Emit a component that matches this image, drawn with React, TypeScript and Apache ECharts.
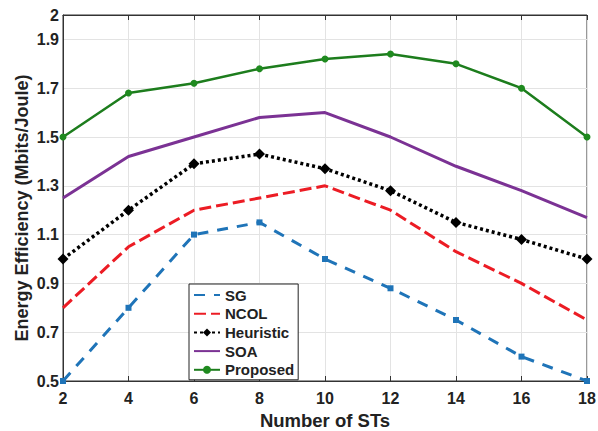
import React, { useEffect, useRef } from "react";
import * as echarts from "echarts";

const xValues = [2, 4, 6, 8, 10, 12, 14, 16, 18];
const sg = [0.5, 0.8, 1.1, 1.15, 1.0, 0.88, 0.75, 0.6, 0.5];
const ncol = [0.8, 1.05, 1.2, 1.25, 1.3, 1.2, 1.03, 0.9, 0.75];
const heuristic = [1.0, 1.2, 1.39, 1.43, 1.37, 1.28, 1.15, 1.08, 1.0];
const soa = [1.25, 1.42, 1.5, 1.58, 1.6, 1.5, 1.38, 1.28, 1.17];
const proposed = [1.5, 1.68, 1.72, 1.78, 1.82, 1.84, 1.8, 1.7, 1.5];
const yTickLabels = ["0.5", "0.7", "0.9", "1.1", "1.3", "1.5", "1.7", "1.9", "2"];
const yTitle = "Energy Efficiency (Mbits/Joule)";
const xTitle = "Number of STs";

const pairs = (ys: number[]) => xValues.map((x, i) => [x, ys[i]]);

export default function App() {
  const ref = useRef<HTMLDivElement>(null);
  useEffect(() => {
    if (!ref.current) return;
    const chart = echarts.init(ref.current, undefined, { renderer: "svg" });
    const font = "'Liberation Sans', Arial, sans-serif";
    const hidden = { opacity: 0 };
    chart.setOption({
      animation: false,
      backgroundColor: "#fff",
      textStyle: { fontFamily: font },
      grid: {
        left: 63,
        right: 11,
        top: 15,
        bottom: 50,
        show: true,
        borderColor: "#333",
        borderWidth: 1,
        containLabel: false,
        outerBoundsMode: "none",
      },
      graphic: [
        {
          type: "text",
          x: 22,
          y: 208,
          rotation: Math.PI / 2,
          style: {
            text: yTitle,
            fontFamily: font,
            fontWeight: "bold",
            fontSize: 18,
            fill: "#222",
            align: "center",
            verticalAlign: "middle",
          },
        },
      ],
      legend: {
        orient: "vertical",
        left: 189,
        top: 284,
        itemWidth: 26,
        itemHeight: 10,
        itemGap: 2.7,
        padding: [3, 4, 2, 4],
        backgroundColor: "#fff",
        borderColor: "#222",
        borderWidth: 1,
        textStyle: { fontFamily: font, fontWeight: "bold", fontSize: 15, lineHeight: 16, color: "#222" },
        data: [
          { name: "SG", itemStyle: hidden },
          { name: "NCOL", itemStyle: hidden },
          { name: "Heuristic" },
          { name: "SOA", itemStyle: hidden },
          { name: "Proposed" },
        ],
      },
      xAxis: [
        {
          type: "value",
          min: 2,
          max: 18,
          interval: 2,
          name: xTitle,
          nameLocation: "middle",
          nameGap: 30,
          nameTextStyle: { fontFamily: font, fontWeight: "bold", fontSize: 18.5, color: "#222" },
          axisLine: { lineStyle: { color: "#333" } },
          axisTick: { inside: true, length: 5, lineStyle: { color: "#333" } },
          axisLabel: { fontFamily: font, fontWeight: "bold", fontSize: 16, color: "#222", margin: 9 },
          splitLine: { show: true, lineStyle: { color: "#e3e3e3", width: 1 } },
        },
        {
          type: "value",
          position: "top",
          min: 2,
          max: 18,
          interval: 2,
          axisLine: { lineStyle: { color: "#333" } },
          axisTick: { inside: true, length: 5, lineStyle: { color: "#333" } },
          axisLabel: { show: false },
          splitLine: { show: false },
        },
      ],
      yAxis: {
        type: "value",
        min: 0.5,
        max: 2,
        interval: 0.1,
        axisLine: { lineStyle: { color: "#333" } },
        axisTick: { show: false },
        axisLabel: {
          fontFamily: font,
          fontWeight: "bold",
          fontSize: 16,
          color: "#222",
          margin: 4,
          formatter: (v: number) => {
            const s = String(Math.round(v * 10) / 10);
            return yTickLabels.includes(s) ? s : "";
          },
        },
        splitLine: { show: true, lineStyle: { color: ["#e3e3e3", "rgba(0,0,0,0)"], width: 1 } },
      },
      series: [
        {
          name: "SG",
          type: "line",
          data: pairs(sg),
          color: "#1f74b8",
          symbol: "rect",
          symbolSize: 6,
          lineStyle: { width: 3, type: [11, 9], color: "#1f74b8" },
          itemStyle: { color: "#1f74b8" },
        },
        {
          name: "NCOL",
          type: "line",
          data: pairs(ncol),
          color: "#ec1c24",
          symbol: "none",
          lineStyle: { width: 3, type: [12, 5], color: "#ec1c24" },
        },
        {
          name: "Heuristic",
          type: "line",
          data: pairs(heuristic),
          color: "#000",
          symbol: "diamond",
          symbolSize: 11,
          lineStyle: { width: 3.5, type: [3, 3], color: "#000" },
          itemStyle: { color: "#000" },
        },
        {
          name: "SOA",
          type: "line",
          data: pairs(soa),
          color: "#7b3294",
          symbol: "none",
          lineStyle: { width: 3, color: "#7b3294" },
        },
        {
          name: "Proposed",
          type: "line",
          data: pairs(proposed),
          color: "#1f8a1f",
          symbol: "circle",
          symbolSize: 7,
          lineStyle: { width: 2.5, color: "#1d7d1d" },
          itemStyle: { color: "#1f8a1f" },
        },
      ],
    });
    return () => chart.dispose();
  }, []);
  return <div ref={ref} style={{ width: 598, height: 431, position: "absolute", left: 0, top: 0 }} />;
}
